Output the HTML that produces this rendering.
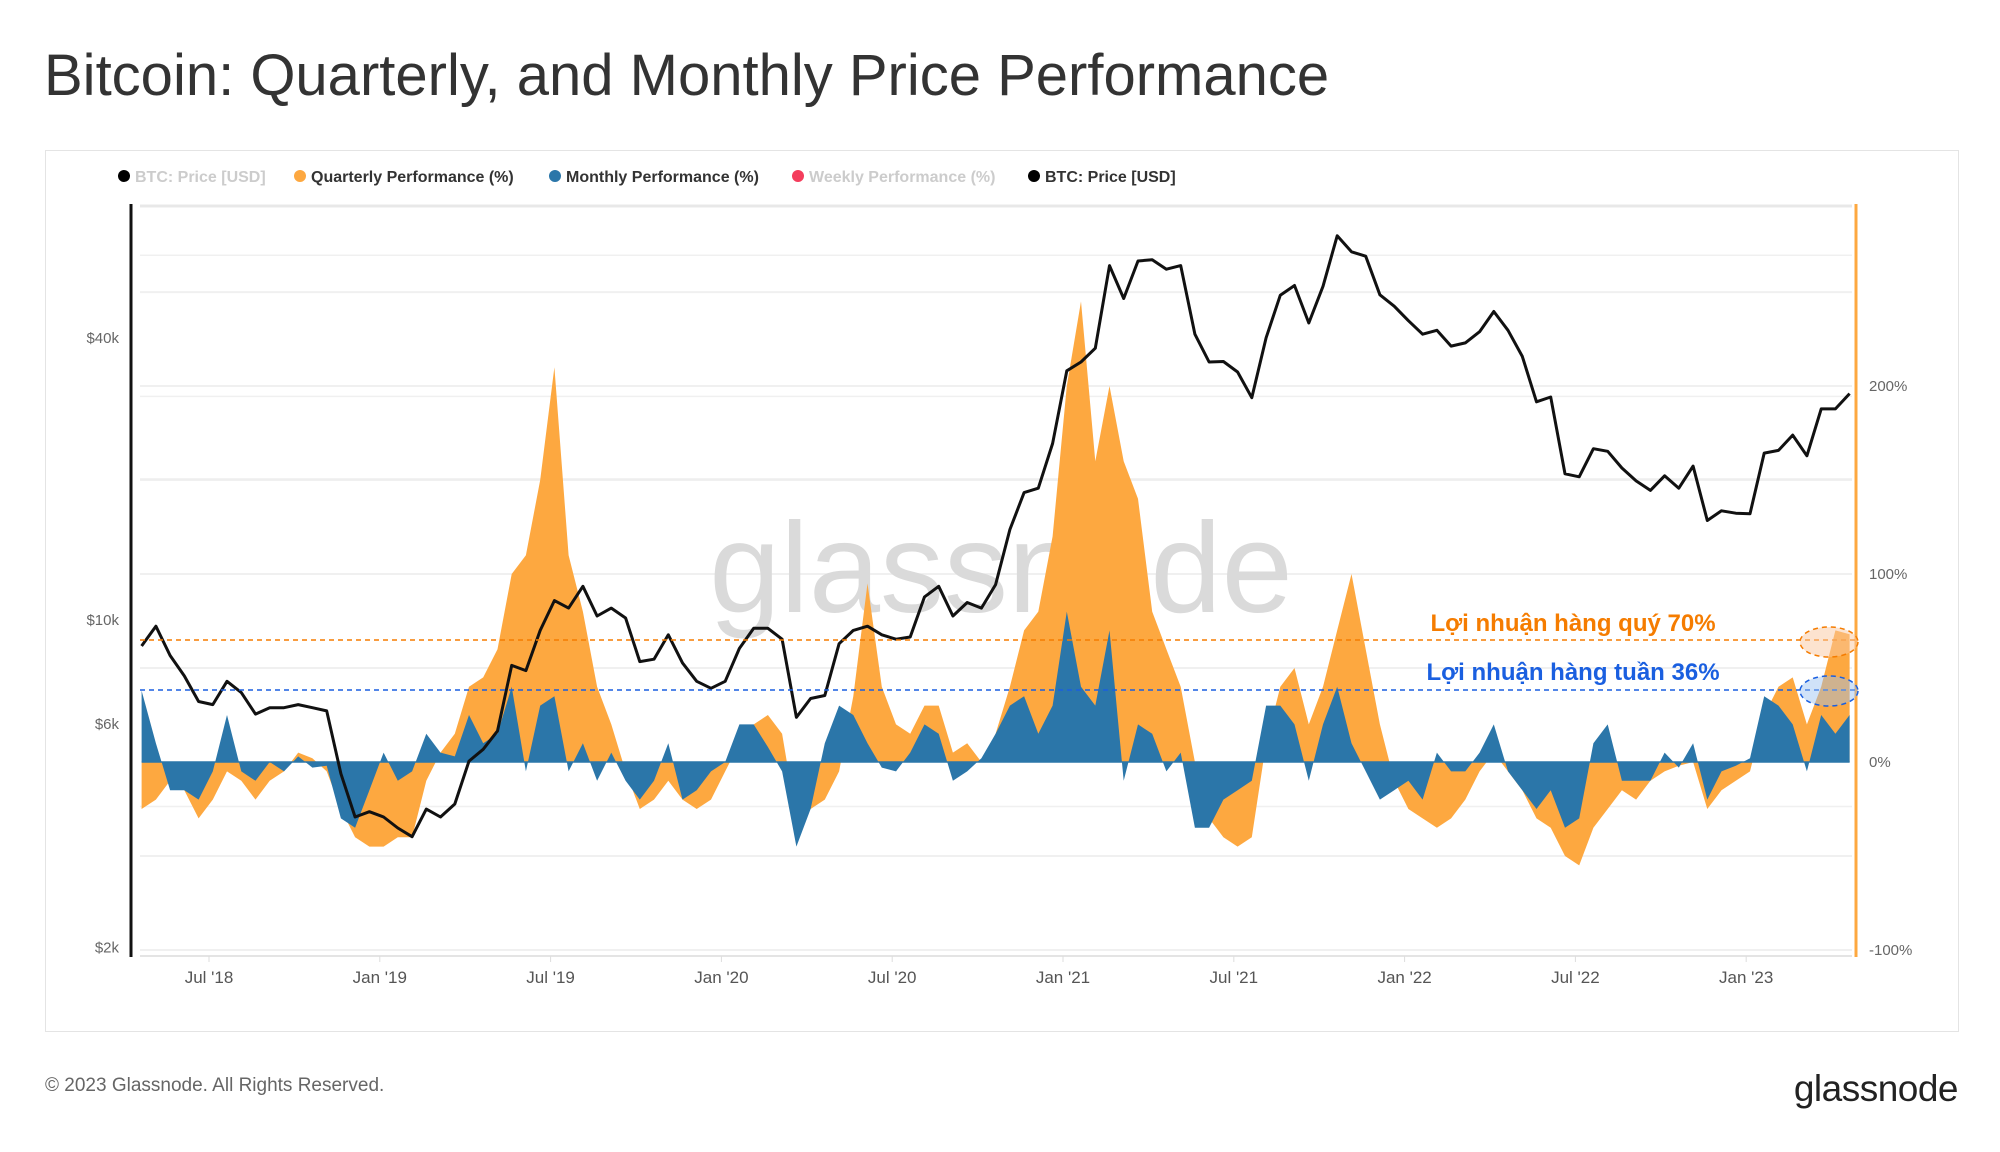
<!DOCTYPE html>
<html><head><meta charset="utf-8"><style>
html,body{margin:0;padding:0;background:#fff;}
body{width:2000px;height:1152px;position:relative;overflow:hidden;font-family:"Liberation Sans","Noto Sans CJK SC",sans-serif;}
</style></head><body>
<div style="position:absolute;left:44px;top:42px;font-size:58px;color:#333;white-space:nowrap;">Bitcoin: Quarterly, and Monthly Price Performance</div>
<div style="position:absolute;left:45px;top:150px;width:1912px;height:880px;border:1px solid #e4e4e4;"></div>
<svg id="chart" width="2000" height="1152" style="position:absolute;left:0;top:0;"></svg>
<div style="position:absolute;left:45px;top:1075px;font-size:19px;color:#666;">© 2023 Glassnode. All Rights Reserved.</div>
<div style="position:absolute;right:42px;top:1068px;font-size:37px;color:#222;letter-spacing:-0.5px;">glassnode</div>
<script>
const priceValues=[8800,9700,8400,7600,6700,6600,7400,7000,6300,6500,6500,6600,6500,6400,4700,3800,3900,
3800,3600,3450,3950,3800,4050,5000,5300,5800,8000,7800,9500,11000,10600,11800,10200,10600,10100,8150,8250,9300,8100,7400,7150,
7400,8700,9600,9600,9100,6200,6800,6900,8900,9500,9700,9300,9100,9200,11200,11800,10200,10900,10600,11900,15600,18700,19100,23800,
34000,35500,38000,57000,48500,58300,58700,56000,57000,40700,35500,35600,33800,29800,40000,49300,51700,43000,51500,66000,61000,59700,49400,46700,
43500,40700,41500,38400,39000,41200,45500,41500,36500,29200,29900,20500,20200,23200,22900,21100,19800,18900,20300,19100,21300,16300,17100,16900,
16850,22700,23000,24800,22400,28200,28200,30400];
const quarterlyValues=[-25,-20,-10,-15,-30,-20,-5,-10,-20,-10,-5,5,2,-5,-25,-40,-45,
-45,-40,-40,-10,5,15,40,45,60,100,110,150,210,110,80,40,20,-5,-25,-20,-10,-20,-25,-20,
-5,10,20,25,15,-30,-25,-20,-5,35,95,40,20,15,30,30,5,10,0,15,40,70,80,120,
200,245,160,200,160,140,80,60,40,0,-30,-40,-45,-40,10,40,50,20,40,70,100,60,20,-10,
-25,-30,-35,-30,-20,-5,5,-5,-15,-30,-35,-50,-55,-35,-25,-15,-20,-10,-5,-2,0,-25,-15,-10,
-5,25,40,45,20,40,70,68];
const monthlyValues=[38,10,-15,-15,-20,-5,25,-5,-10,0,-5,3,-3,-2,-30,-35,-15,
5,-10,-5,15,5,3,25,10,15,40,-5,30,35,-5,10,-10,5,-10,-20,-10,10,-20,-15,-5,
0,20,20,8,-5,-45,-25,10,30,25,10,-3,-5,5,20,15,-10,-5,2,15,30,35,15,30,
80,40,30,70,-10,20,15,-5,5,-35,-35,-20,-15,-10,30,30,20,-10,20,40,10,-5,-20,-15,
-10,-20,5,-5,-5,5,20,-5,-15,-25,-15,-35,-30,10,20,-10,-10,-10,5,-3,10,-20,-5,-2,
2,35,30,20,-5,25,15,25];
const xTickLabels=["Jul '18","Jan '19","Jul '19","Jan '20","Jul '20","Jan '21","Jul '21","Jan '22","Jul '22","Jan '23"];
const xTickTimes=[2018.5,2019,2019.5,2020,2020.5,2021,2021.5,2022,2022.5,2023];
const priceTicks=[40000,10000,6000,2000];
const priceTickLabels=["$40k","$10k","$6k","$2k"];
const pctTicks=[200,100,0,-100];
const pctTickLabels=["200%","100%","0%","-100%"];

const NS="http://www.w3.org/2000/svg";
const svg=document.getElementById('chart');
function xOf(t){return 209+(t-2018.5)*341.6;}
function yPrice(p){return 620-203.6*Math.log(p/10000);}
function yPct(v){return 762-1.88*v;}
const dates=[];
{let y=2018,m=3,d=20;for(let i=0;i<priceValues.length;i++){dates.push(y+(m+(d-1)/30)/12);if(d===5){d=20;}else{d=5;m++;if(m>11){m=0;y++;}}}}
function mk(tag,attrs){const e=document.createElementNS(NS,tag);for(const k in attrs)e.setAttribute(k,attrs[k]);svg.appendChild(e);return e;}

[250,200,150,100,50,-50,-100].forEach(v=>{const l=mk('line',{x1:140,x2:1852,y1:yPct(v),y2:yPct(v),stroke:'#ececec','stroke-width':1.5});

});
[60000,50000,20000,30000,4000].forEach(p=>{const l=mk('line',{x1:140,x2:1852,y1:yPrice(p),y2:yPrice(p),stroke:'#f0f0f0','stroke-width':1.5});

});
const topLine=mk('line',{x1:140,x2:1852,y1:206,y2:206,stroke:'#e8e8e8','stroke-width':3});



const wm=mk('text',{x:1001,y:612,'text-anchor':'middle','font-size':128,fill:'#dadada','font-family':'Liberation Sans, sans-serif'});
wm.textContent='glassnode';



function areaPath(vals){let d='M'+xOf(dates[0])+','+yPct(0);vals.forEach((v,i)=>{d+=' L'+xOf(dates[i]).toFixed(1)+','+yPct(v).toFixed(1);});d+=' L'+xOf(dates[vals.length-1])+','+yPct(0)+' Z';return d;}
const qa=mk('path',{d:areaPath(quarterlyValues),fill:'#fda840'});


const ma=mk('path',{d:areaPath(monthlyValues),fill:'#2b76a9'});


const zl=mk('line',{x1:xOf(dates[0]),x2:xOf(dates[dates.length-1]),y1:yPct(0),y2:yPct(0),stroke:'#2b76a9','stroke-width':1.5});



let pd='';priceValues.forEach((p,i)=>{pd+=(i?' L':'M')+xOf(dates[i]).toFixed(1)+','+yPrice(p).toFixed(1);});
const pl=mk('path',{d:pd,fill:'none',stroke:'#111','stroke-width':3,'stroke-linejoin':'round'});



const la=mk('line',{x1:131,x2:131,y1:204,y2:957,stroke:'#111','stroke-width':3});


const ra=mk('line',{x1:1856,x2:1856,y1:204,y2:957,stroke:'#fda840','stroke-width':3});


const ba=mk('line',{x1:140,x2:1852,y1:956,y2:956,stroke:'#e4e4e4','stroke-width':2});


priceTicks.forEach((p,i)=>{const t=mk('text',{x:119,y:yPrice(p)+5,'text-anchor':'end','font-size':15,fill:'#666'});t.textContent=priceTickLabels[i];

});
pctTicks.forEach((v,i)=>{const t=mk('text',{x:1869,y:yPct(v)+5,'font-size':15,fill:'#666'});t.textContent=pctTickLabels[i];

});
xTickTimes.forEach((tt,i)=>{const tk=mk('line',{x1:xOf(tt),x2:xOf(tt),y1:956,y2:962,stroke:'#ddd','stroke-width':1});


const t=mk('text',{x:xOf(tt),y:983,'text-anchor':'middle','font-size':17,fill:'#555'});t.textContent=xTickLabels[i];

});

const od=mk('line',{x1:140,x2:1855,y1:640,y2:640,stroke:'#f57c00','stroke-width':1.5,'stroke-dasharray':'5,4'});


const bd=mk('line',{x1:140,x2:1855,y1:690,y2:690,stroke:'#1a5fe0','stroke-width':1.5,'stroke-dasharray':'5,4'});


const oe=mk('ellipse',{cx:1829,cy:642,rx:29,ry:15,fill:'rgba(250,200,160,0.5)',stroke:'#f57c00','stroke-width':1.5,'stroke-dasharray':'5,4'});


const be=mk('ellipse',{cx:1829,cy:691,rx:29,ry:15,fill:'rgba(150,190,240,0.45)',stroke:'#1a5fe0','stroke-width':1.5,'stroke-dasharray':'5,4'});


const ot=mk('text',{x:1573,y:631,'text-anchor':'middle','font-size':24,'font-weight':'bold',fill:'#f57c00'});ot.textContent='Lợi nhuận hàng quý 70%';


const bt=mk('text',{x:1573,y:680,'text-anchor':'middle','font-size':24,'font-weight':'bold',fill:'#1a5fe0'});bt.textContent='Lợi nhuận hàng tuần 36%';



const legendLabels=["BTC: Price [USD]","Quarterly Performance (%)","Monthly Performance (%)","Weekly Performance (%)","BTC: Price [USD]"];
const legendDot=["#000","#fda840","#2b76a9","#f43d5c","#000"];
const legendText=["#ccc","#333","#333","#ccc","#333"];
const legendX=[124,300,555,798,1034];
legendLabels.forEach((s,i)=>{const c=mk('circle',{cx:legendX[i],cy:176,r:6,fill:legendDot[i]});


const t=mk('text',{x:legendX[i]+11,y:182,'font-size':16,'font-weight':'bold',fill:legendText[i]});t.textContent=s;

});
</script>
</body></html>
